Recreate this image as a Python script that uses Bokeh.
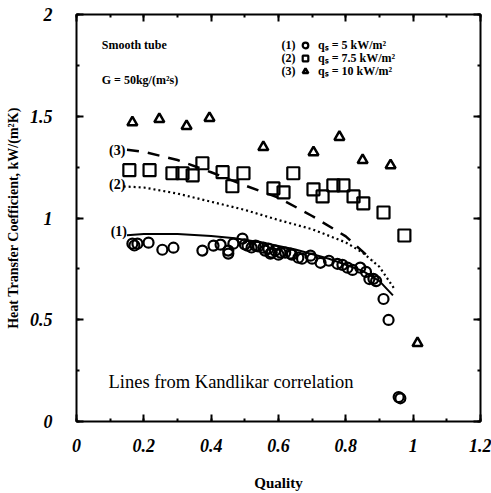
from bokeh.plotting import figure
from bokeh.models import (SingleIntervalTicker, LinearAxis, CustomJSTickFormatter,
                          Legend, LegendItem, Label)
from bokeh.embed import file_html
from bokeh.resources import INLINE

# ---- data ----
q5_x = [0.166, 0.172, 0.181, 0.214, 0.255, 0.288, 0.374, 0.407, 0.428, 0.451, 0.451,
        0.466, 0.493, 0.50, 0.508, 0.52, 0.532, 0.54, 0.555, 0.56, 0.57, 0.576, 0.58,
        0.59, 0.60, 0.606, 0.62, 0.636, 0.64, 0.659, 0.67, 0.695, 0.70, 0.725, 0.75,
        0.775, 0.79, 0.805, 0.82, 0.843, 0.86, 0.87, 0.882, 0.89, 0.912, 0.927, 0.957, 0.962]
q5_y = [0.874, 0.865, 0.874, 0.879, 0.844, 0.854, 0.840, 0.864, 0.869, 0.840, 0.825,
        0.874, 0.899, 0.87, 0.864, 0.855, 0.864, 0.86, 0.854, 0.84, 0.85, 0.825, 0.83,
        0.84, 0.82, 0.830, 0.83, 0.825, 0.82, 0.805, 0.80, 0.815, 0.80, 0.780, 0.79,
        0.775, 0.77, 0.756, 0.745, 0.756, 0.735, 0.70, 0.701, 0.69, 0.602, 0.499, 0.12, 0.114]

q75_x = [0.157, 0.217, 0.285, 0.315, 0.345, 0.374, 0.434, 0.463, 0.496, 0.585, 0.615,
         0.644, 0.704, 0.731, 0.763, 0.793, 0.823, 0.852, 0.912, 0.974]
q75_y = [1.235, 1.235, 1.220, 1.220, 1.210, 1.269, 1.225, 1.156, 1.220, 1.146, 1.126,
         1.220, 1.141, 1.106, 1.160, 1.160, 1.106, 1.072, 1.027, 0.914]

q10_x = [0.166, 0.246, 0.327, 0.395, 0.555, 0.704, 0.781, 0.850, 0.933, 1.013]
q10_y = [1.470, 1.486, 1.452, 1.491, 1.348, 1.323, 1.398, 1.284, 1.259, 0.385]

k1_x = [0.15, 0.20, 0.30, 0.40, 0.47, 0.55, 0.65, 0.75, 0.85, 0.90, 0.94]
k1_y = [0.915, 0.922, 0.922, 0.912, 0.90, 0.88, 0.845, 0.80, 0.74, 0.69, 0.62]

k2_x = [0.14, 0.20, 0.30, 0.40, 0.50, 0.60, 0.70, 0.80, 0.85, 0.90, 0.945]
k2_y = [1.155, 1.15, 1.12, 1.08, 1.04, 0.99, 0.945, 0.88, 0.83, 0.76, 0.65]

k3_x = [0.15, 0.20, 0.30, 0.40, 0.50, 0.60, 0.70, 0.80, 0.88]
k3_y = [1.335, 1.325, 1.285, 1.225, 1.16, 1.10, 1.01, 0.91, 0.79]

legend_labels = ["qₛ = 5 kW/m²", "qₛ = 7.5 kW/m²", "qₛ = 10 kW/m²"]

FONT = "Liberation Serif"

p = figure(width=491, height=493, x_range=(0, 1.2001), y_range=(0, 2.0001),
           output_backend="svg", toolbar_location=None,
           x_axis_type=None, y_axis_type=None,
           min_border_left=76, min_border_right=11, min_border_top=14, min_border_bottom=72)
p.grid.visible = False
p.outline_line_color = "black"
p.outline_line_width = 2
p.background_fill_color = "white"

fmt = CustomJSTickFormatter(code="return tick.toFixed(1).replace(/\\.0$/, '');")
blank = CustomJSTickFormatter(code="return '';")

def make_axis(ticker_interval, show_labels):
    ax = LinearAxis(ticker=SingleIntervalTicker(interval=ticker_interval, num_minor_ticks=2),
                    formatter=fmt if show_labels else blank)
    ax.axis_line_color = None
    ax.major_tick_in = 7
    ax.major_tick_out = 0
    ax.minor_tick_in = 3
    ax.minor_tick_out = 0
    ax.major_tick_line_width = 2
    ax.minor_tick_line_width = 2
    ax.major_label_text_font = FONT
    ax.major_label_text_font_style = "bold italic"
    ax.major_label_text_font_size = "18px"
    ax.major_label_text_color = "black"
    if not show_labels:
        ax.major_label_standoff = 0
    return ax

xb = make_axis(0.2, True)
xb.major_label_standoff = 17
xb.axis_label = "Quality"
xb.axis_label_text_font = FONT
xb.axis_label_text_font_style = "bold"
xb.axis_label_text_font_size = "15px"
xb.axis_label_text_color = "black"
xb.axis_label_standoff = 20
p.add_layout(xb, "below")

yl = make_axis(0.5, True)
yl.major_label_standoff = 24
yl.axis_label = "Heat Transfer Coefficient, kW/(m²K)"
yl.axis_label_text_font = FONT
yl.axis_label_text_font_style = "bold"
yl.axis_label_text_font_size = "14px"
yl.axis_label_text_color = "black"
yl.axis_label_standoff = 6
p.add_layout(yl, "left")

p.add_layout(make_axis(0.2, False), "above")
p.add_layout(make_axis(0.5, False), "right")

# correlation lines
p.line(k1_x, k1_y, line_color="black", line_width=2)
p.line(k2_x, k2_y, line_color="black", line_width=2.2, line_dash="2 3")
p.line(k3_x, k3_y, line_color="black", line_width=2.5, line_dash="12 9")

r1 = p.scatter(q5_x, q5_y, marker="circle", size=10, fill_color=None,
               line_color="black", line_width=2.2)
r2 = p.scatter(q75_x, q75_y, marker="square", size=12, fill_color=None,
               line_color="black", line_width=2.2)
r3 = p.scatter(q10_x, q10_y, marker="triangle", size=10, fill_color=None,
               line_color="black", line_width=2.5)

# one legend per row so rows sit at fixed heights
for lbl, rend, ypos in zip(legend_labels, [r1, r2, r3], [368, 355, 342]):
    lg = Legend(items=[LegendItem(label=lbl, renderers=[rend])],
                location=(222, ypos), padding=0, spacing=0, margin=0,
                label_height=16, glyph_height=16, glyph_width=14, label_standoff=6,
                border_line_color=None, background_fill_alpha=0,
                label_text_font=FONT, label_text_font_style="bold",
                label_text_font_size="12px", label_text_color="black")
    p.add_layout(lg)

# annotations
def lab(x, y, t, size="13px", style="bold", align="left"):
    p.add_layout(Label(x=x, y=y, text=t, text_font=FONT, text_font_style=style,
                       text_font_size=size, text_align=align, text_baseline="middle",
                       text_color="black"))

lab(0.63, 1.852, "(1)", "12px", "bold", "center")
lab(0.63, 1.788, "(2)", "12px", "bold", "center")
lab(0.63, 1.723, "(3)", "12px", "bold", "center")
lab(0.075, 1.852, "Smooth tube", "12px")
lab(0.075, 1.68, "G = 50kg/(m²s)", "12px")
lab(0.145, 1.33, "(3)", "14px", "bold", "right")
lab(0.145, 1.165, "(2)", "14px", "bold", "right")
lab(0.15, 0.933, "(1)", "14px", "bold", "right")
lab(0.095, 0.193, "Lines from Kandlikar correlation", "18.5px", "normal")

open("out.html", "w").write(file_html(p, INLINE))
